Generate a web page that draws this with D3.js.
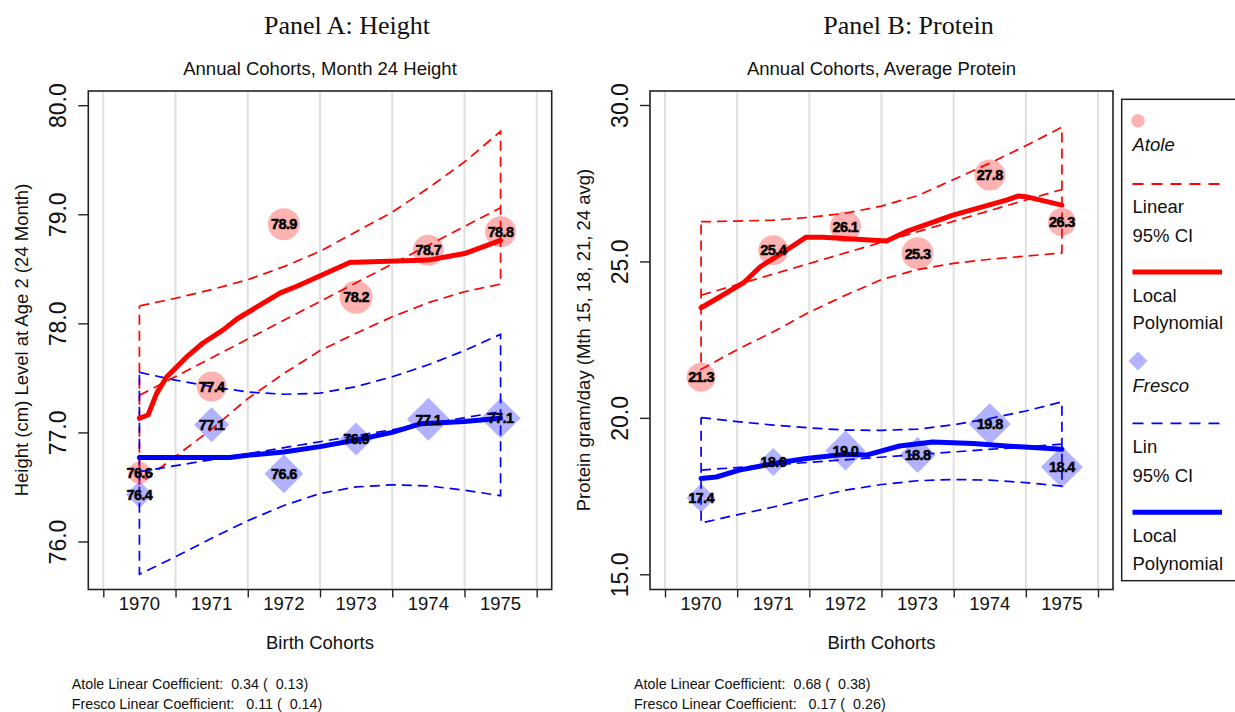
<!DOCTYPE html>
<html><head><meta charset="utf-8">
<script src="https://cdn.jsdelivr.net/npm/d3@7"></script>
<style>body{margin:0;background:#fff}svg{display:block}text{white-space:pre}</style>
</head><body><svg id="c" width="1235" height="712"></svg>
<script>
// ---------- DATA ----------
const years = [1970, 1971, 1972, 1973, 1974, 1975];
const gridYears = [1969.5, 1970.5, 1971.5, 1972.5, 1973.5, 1974.5, 1975.5];
const ciYears = [1970, 1970.5, 1971, 1971.5, 1972, 1972.5, 1973, 1973.5, 1974, 1974.5, 1975];
const fitYears = [1970, 1975];

// Panel A: Height
const heightTicks = [76, 77, 78, 79, 80];
const heightAtole = [76.63, 77.42, 78.91, 78.24, 78.67, 78.84];
const heightFresco = [76.43, 77.07, 76.62, 76.94, 77.12, 77.13];
const heightAtoleWeight = [48, 90, 102, 109, 96, 96];
const heightFrescoWeight = [73, 123, 152, 109, 185, 160];
const heightAtoleFit = [77.34, 79.06];
const heightAtoleUpper = [78.16, 78.23, 78.31, 78.40, 78.52, 78.66, 78.84, 79.02, 79.24, 79.48, 79.76];
const heightAtoleLower = [76.53, 76.78, 77.03, 77.31, 77.54, 77.75, 77.91, 78.06, 78.19, 78.29, 78.36];
const heightFrescoFit = [76.64, 77.19];
const heightFrescoUpper = [77.55, 77.48, 77.42, 77.37, 77.35, 77.36, 77.42, 77.51, 77.62, 77.75, 77.90];
const heightFrescoLower = [75.70, 75.86, 76.03, 76.19, 76.33, 76.44, 76.50, 76.52, 76.51, 76.47, 76.42];
const heightAtoleLpX = [1970, 1970.12, 1970.24, 1970.38, 1970.65, 1970.88, 1971.16, 1971.35, 1971.95, 1972.18, 1972.92, 1973.0, 1974.0, 1974.5, 1975];
const heightAtoleLpY = [77.13, 77.16, 77.36, 77.51, 77.69, 77.82, 77.94, 78.04, 78.28, 78.34, 78.56, 78.56, 78.58, 78.64, 78.76];
const heightFrescoLpX = [1970, 1970.5, 1971, 1971.25, 1971.5, 1972, 1972.5, 1973, 1973.5, 1973.9, 1974.5, 1975];
const heightFrescoLpY = [76.77, 76.77, 76.77, 76.77, 76.79, 76.82, 76.87, 76.93, 77.00, 77.08, 77.10, 77.13];

// Panel B: Protein
const proteinTicks = [15, 20, 25, 30];
const proteinAtole = [21.30, 25.36, 26.11, 25.26, 27.76, 26.26];
const proteinFresco = [17.44, 18.59, 18.96, 18.81, 19.80, 18.43];
const proteinAtoleWeight = [84, 90, 96, 102, 96, 78];
const proteinFrescoWeight = [84, 78, 160, 130, 176, 176];
const proteinAtoleFit = [23.92, 27.30];
const proteinAtoleUpper = [26.27, 26.29, 26.32, 26.41, 26.54, 26.77, 27.10, 27.62, 28.14, 28.70, 29.29];
const proteinAtoleLower = [21.55, 22.18, 22.75, 23.38, 23.92, 24.42, 24.74, 24.94, 25.07, 25.17, 25.27];
const proteinFrescoFit = [18.33, 19.16];
const proteinFrescoUpper = [20.01, 19.88, 19.77, 19.68, 19.61, 19.60, 19.64, 19.78, 19.98, 20.22, 20.51];
const proteinFrescoLower = [16.64, 16.90, 17.15, 17.43, 17.69, 17.87, 17.99, 18.03, 18.01, 17.93, 17.82];
const proteinAtoleLpX = [1970, 1970.21, 1970.49, 1970.59, 1970.82, 1971.15, 1971.45, 1971.69, 1972.57, 1972.84, 1973.49, 1973.91, 1974.23, 1974.39, 1974.5, 1975];
const proteinAtoleLpY = [23.52, 23.80, 24.19, 24.32, 24.83, 25.31, 25.77, 25.77, 25.65, 25.95, 26.48, 26.75, 26.96, 27.09, 27.07, 26.80];
const proteinFrescoLpX = [1970, 1970.21, 1970.53, 1971, 1971.46, 1972, 1972.29, 1972.75, 1973.21, 1973.77, 1974.23, 1975];
const proteinFrescoLpY = [18.06, 18.11, 18.33, 18.54, 18.70, 18.84, 18.81, 19.10, 19.23, 19.18, 19.10, 19.00];

const coefTexts = {
  A: ["Atole Linear Coefficient:  0.34 (  0.13)", "Fresco Linear Coefficient:   0.11 (  0.14)"],
  B: ["Atole Linear Coefficient:  0.68 (  0.38)", "Fresco Linear Coefficient:   0.17 (  0.26)"]
};

// ---------- DRAW ----------
const SANS = "'Liberation Sans', Arial, Helvetica, sans-serif";
const SERIF = "'Liberation Serif', 'Times New Roman', serif";
const RED = "#FF0000", BLUE = "#0000FF";
const svg = d3.select("#c");
const sizeScale = d3.scaleSqrt().domain([0, 200]).range([0, 44.7]);

function panel(cfg) {
  const g = svg.append("g");
  const x = d3.scaleLinear().domain([1969.5, 1975.5]).range([cfg.left + 15, cfg.right - 15]);
  const y = d3.scaleLinear().domain(cfg.yRef).range(cfg.yRefPx);

  // grid
  g.selectAll(".grid").data(gridYears).enter().append("line")
    .attr("x1", d => x(d)).attr("x2", d => x(d))
    .attr("y1", cfg.top + 1).attr("y2", cfg.bottom - 1)
    .attr("stroke", "#E0E0E0").attr("stroke-width", 2);

  // markers
  const aPts = years.map((yr, i) => ({yr, v: cfg.atole[i], w: cfg.atoleW[i]}));
  const fPts = years.map((yr, i) => ({yr, v: cfg.fresco[i], w: cfg.frescoW[i]}));
  g.selectAll(".am").data(aPts).enter().append("circle")
    .attr("cx", d => x(d.yr)).attr("cy", d => y(d.v)).attr("r", d => sizeScale(d.w) / 2)
    .attr("fill", RED).attr("fill-opacity", 0.3);
  g.selectAll(".fm").data(fPts).enter().append("path")
    .attr("d", d => { const h = sizeScale(d.w) / 2; return `M0,${-h}L${h},0L0,${h}L${-h},0Z`; })
    .attr("transform", d => `translate(${x(d.yr)},${y(d.v)})`)
    .attr("fill", BLUE).attr("fill-opacity", 0.3);

  const line = d3.line().x(d => x(d[0])).y(d => y(d[1]));
  function ci(upper, lower, fit, col) {
    const poly = ciYears.map((yr, i) => [yr, upper[i]])
      .concat(ciYears.map((yr, i) => [yr, lower[i]]).reverse());
    poly.push([ciYears[0], upper[0]]);
    g.append("path").attr("d", line(poly)).attr("fill", "none")
      .attr("stroke", col).attr("stroke-width", 1.7).attr("stroke-dasharray", "10,6");
    g.append("path").attr("d", line(fitYears.map((yr, i) => [yr, fit[i]]))).attr("fill", "none")
      .attr("stroke", col).attr("stroke-width", 1.7).attr("stroke-dasharray", "10,6");
  }
  ci(cfg.aUp, cfg.aLo, cfg.aFit, RED);
  ci(cfg.fUp, cfg.fLo, cfg.fFit, BLUE);

  g.append("path").attr("d", line(cfg.aLpX.map((v, i) => [v, cfg.aLpY[i]])))
    .attr("fill", "none").attr("stroke", RED).attr("stroke-width", 5).attr("stroke-linejoin", "round").attr("stroke-linecap", "round");
  g.append("path").attr("d", line(cfg.fLpX.map((v, i) => [v, cfg.fLpY[i]])))
    .attr("fill", "none").attr("stroke", BLUE).attr("stroke-width", 5).attr("stroke-linejoin", "round").attr("stroke-linecap", "round");

  // labels
  g.selectAll(".lab").data(aPts.concat(fPts)).enter().append("text")
    .attr("x", d => x(d.yr)).attr("y", d => y(d.v)).attr("dy", "0.36em")
    .attr("text-anchor", "middle").attr("font-family", SANS).attr("font-weight", "bold")
    .attr("font-size", 14.5).attr("letter-spacing", -0.6).attr("fill", "#000")
    .attr("stroke", "#000").attr("stroke-width", 0.5)
    .text(d => d.v.toFixed(1));

  // box
  g.append("rect").attr("x", cfg.left).attr("y", cfg.top)
    .attr("width", cfg.right - cfg.left).attr("height", cfg.bottom - cfg.top)
    .attr("fill", "none").attr("stroke", "#222").attr("stroke-width", 1.6);

  // y axis
  const ya = g.append("g").attr("transform", `translate(${cfg.left},0)`)
    .call(d3.axisLeft(y).tickValues(cfg.ticks).tickSize(10).tickFormat(d3.format(".1f")));
  ya.select(".domain").remove();
  ya.selectAll(".tick line").attr("stroke", "#222").attr("stroke-width", 1.4);
  ya.selectAll(".tick text").attr("font-family", SANS).attr("font-size", 23).attr("fill", "#111")
    .attr("x", null).attr("dy", null)
    .attr("transform", "translate(-30,0) rotate(-90)")
    .attr("text-anchor", "middle").attr("dominant-baseline", "central");

  // x axis
  const xa = g.append("g").attr("transform", `translate(0,${cfg.bottom})`)
    .call(d3.axisBottom(x).tickValues(gridYears).tickSize(8).tickFormat(""));
  xa.select(".domain").remove();
  xa.selectAll(".tick line").attr("stroke", "#222").attr("stroke-width", 1.4);
  g.selectAll(".yl").data(years).enter().append("text")
    .attr("x", d => x(d)).attr("y", 609.5).attr("text-anchor", "middle")
    .attr("font-family", SANS).attr("font-size", 18.5).attr("fill", "#111")
    .text(d => String(d));

  // titles
  const cx = (cfg.left + cfg.right) / 2;
  g.append("text").attr("x", cx + 27).attr("y", 34).attr("text-anchor", "middle")
    .attr("font-family", SERIF).attr("font-size", 26).attr("fill", "#111").text(cfg.title);
  g.append("text").attr("x", cx).attr("y", 75).attr("text-anchor", "middle")
    .attr("font-family", SANS).attr("font-size", 18.5).attr("fill", "#111").text(cfg.subtitle);
  g.append("text").attr("x", cx).attr("y", 649).attr("text-anchor", "middle")
    .attr("font-family", SANS).attr("font-size", 18.5).attr("fill", "#111").text("Birth Cohorts");
  g.append("text").attr("transform", `translate(${cfg.ytitleX},${cfg.ytitleY}) rotate(-90)`)
    .attr("text-anchor", "middle").attr("dominant-baseline", "central")
    .attr("font-family", SANS).attr("font-size", 18.5).attr("fill", "#111").text(cfg.ytitle);
  cfg.coef.forEach((t, i) => {
    g.append("text").attr("x", cfg.coefX).attr("y", 688.5 + i * 20.5)
      .attr("font-family", SANS).attr("font-size", 14.3).attr("fill", "#111").text(t);
  });
}

panel({
  left: 88.3, right: 551.7, top: 91, bottom: 589.5,
  yRef: [76, 80], yRefPx: [541.5, 105.2], ticks: heightTicks,
  atole: heightAtole, fresco: heightFresco, atoleW: heightAtoleWeight, frescoW: heightFrescoWeight,
  aUp: heightAtoleUpper, aLo: heightAtoleLower, aFit: heightAtoleFit,
  fUp: heightFrescoUpper, fLo: heightFrescoLower, fFit: heightFrescoFit,
  aLpX: heightAtoleLpX, aLpY: heightAtoleLpY, fLpX: heightFrescoLpX, fLpY: heightFrescoLpY,
  title: "Panel A: Height", subtitle: "Annual Cohorts, Month 24 Height",
  ytitle: "Height (cm) Level at Age 2 (24 Month)", ytitleX: 21, ytitleY: 340,
  coef: coefTexts.A, coefX: 71.7
});
panel({
  left: 650, right: 1113, top: 91, bottom: 589.5,
  yRef: [15, 30], yRefPx: [574.3, 105], ticks: proteinTicks,
  atole: proteinAtole, fresco: proteinFresco, atoleW: proteinAtoleWeight, frescoW: proteinFrescoWeight,
  aUp: proteinAtoleUpper, aLo: proteinAtoleLower, aFit: proteinAtoleFit,
  fUp: proteinFrescoUpper, fLo: proteinFrescoLower, fFit: proteinFrescoFit,
  aLpX: proteinAtoleLpX, aLpY: proteinAtoleLpY, fLpX: proteinFrescoLpX, fLpY: proteinFrescoLpY,
  title: "Panel B: Protein", subtitle: "Annual Cohorts, Average Protein",
  ytitle: "Protein gram/day (Mth 15, 18, 21, 24 avg)", ytitleX: 583, ytitleY: 340,
  coef: coefTexts.B, coefX: 634
});

// ---------- LEGEND ----------
const lg = svg.append("g");
lg.append("rect").attr("x", 1121.7).attr("y", 99.3).attr("width", 130).attr("height", 481.4)
  .attr("fill", "#fff").attr("stroke", "#222").attr("stroke-width", 1.5);
const LX = 1132.5;
const legendItems = [
  {type: "circle", col: RED, y: 120.7},
  {type: "text", t: "Atole", italic: true, y: 144.3},
  {type: "dash", col: RED, y: 184},
  {type: "text", t: "Linear", y: 206.7},
  {type: "text", t: "95% CI", y: 235},
  {type: "solid", col: RED, y: 272},
  {type: "text", t: "Local", y: 295},
  {type: "text", t: "Polynomial", y: 322.3},
  {type: "diamond", col: BLUE, y: 361},
  {type: "text", t: "Fresco", italic: true, y: 385},
  {type: "dash", col: BLUE, y: 423.3},
  {type: "text", t: "Lin", y: 446.7},
  {type: "text", t: "95% CI", y: 475},
  {type: "solid", col: BLUE, y: 512.3},
  {type: "text", t: "Local", y: 535.7},
  {type: "text", t: "Polynomial", y: 563.3}
];
legendItems.forEach(it => {
  if (it.type === "text") {
    lg.append("text").attr("x", LX).attr("y", it.y).attr("dominant-baseline", "central")
      .attr("font-family", SANS).attr("font-size", 18.5).attr("fill", "#111")
      .attr("font-style", it.italic ? "italic" : "normal").text(it.t);
  } else if (it.type === "circle") {
    lg.append("circle").attr("cx", 1138).attr("cy", it.y).attr("r", 6.8).attr("fill", it.col).attr("fill-opacity", 0.3);
  } else if (it.type === "diamond") {
    lg.append("path").attr("d", "M0,-9.5L9.5,0L0,9.5L-9.5,0Z").attr("transform", `translate(1138,${it.y})`)
      .attr("fill", it.col).attr("fill-opacity", 0.3);
  } else if (it.type === "dash") {
    lg.append("line").attr("x1", LX).attr("x2", 1222).attr("y1", it.y).attr("y2", it.y)
      .attr("stroke", it.col).attr("stroke-width", 1.8).attr("stroke-dasharray", "11,8");
  } else if (it.type === "solid") {
    lg.append("line").attr("x1", LX).attr("x2", 1222).attr("y1", it.y).attr("y2", it.y)
      .attr("stroke", it.col).attr("stroke-width", 5);
  }
});
</script></body></html>
